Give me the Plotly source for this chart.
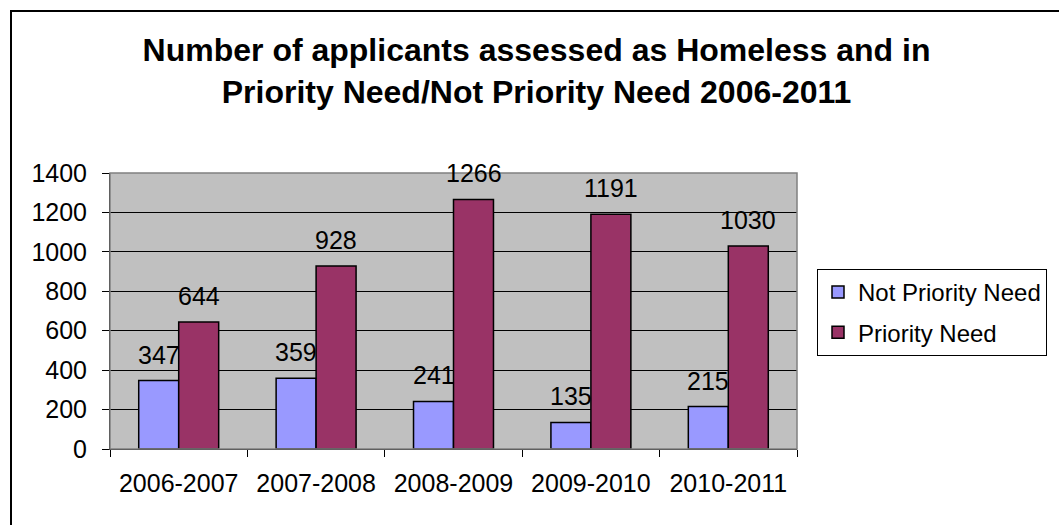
import plotly.graph_objects as go

# Homeless applications by year
periods = ["2006-2007", "2007-2008", "2008-2009", "2009-2010", "2010-2011"]
not_priority = [347, 359, 241, 135, 215]
priority = [644, 928, 1266, 1191, 1030]
y_ticks = [0, 200, 400, 600, 800, 1000, 1200, 1400]

W, H = 1059, 525
L, R, T, B = 110, 262, 173, 76
pw, ph = W - L - R, H - T - B

FONT = "Arial, Liberation Sans, sans-serif"
LABEL_SIZE = 25

series = [
    ("Not Priority Need", not_priority, "#9999FF", "a", -20),
    ("Priority Need", priority, "#993366", "b", 20),
]

fig = go.Figure()
annotations = []
for name, vals, color, grp, dx in series:
    fig.add_trace(go.Bar(
        x=periods, y=vals, name=name, legendgroup=grp,
        marker=dict(color=color, line=dict(color="black", width=1.5)),
    ))
    # value labels above each bar
    for p, v in zip(periods, vals):
        annotations.append(dict(
            x=p, y=v, xref="x", yref="y", text=str(v), showarrow=False,
            xanchor="center", yanchor="bottom", xshift=dx, yshift=10,
            font=dict(family=FONT, size=LABEL_SIZE, color="black"),
        ))

# plot-area outline and outer chart frame
px = lambda v: (v - L) / pw
py = lambda v: (H - B - v) / ph
shapes = [
    dict(type="rect", xref="paper", yref="paper", x0=0, x1=1, y0=0, y1=1,
         line=dict(color="#808080", width=1.5), layer="above"),
    dict(type="rect", xref="paper", yref="paper",
         x0=px(11), x1=px(W + 20), y0=py(H + 20), y1=py(11),
         line=dict(color="black", width=2)),
]

fig.update_layout(
    width=W, height=H,
    margin=dict(l=L, r=R, t=T, b=B, pad=0, autoexpand=False),
    paper_bgcolor="white", plot_bgcolor="#C0C0C0",
    barmode="group", bargap=0.418, bargroupgap=0,
    font=dict(family=FONT, size=LABEL_SIZE, color="black"),
    title=dict(
        text="<b>Number of applicants assessed as Homeless and in<br>"
             "Priority Need/Not Priority Need 2006-2011</b>",
        font=dict(family=FONT, size=32, color="black"),
        x=536.5 / W, xanchor="center",
        y=1 - 61 / H, yanchor="top", yref="container",
    ),
    legend=dict(
        x=px(817), y=py(269), xanchor="left", yanchor="top",
        bordercolor="black", borderwidth=1, bgcolor="white",
        font=dict(family=FONT, size=24, color="black"),
        traceorder="grouped", tracegroupgap=6,
    ),
    shapes=shapes,
    annotations=annotations,
    showlegend=True,
)

fig.update_xaxes(
    type="category", tickson="boundaries",
    ticks="outside", ticklen=7, tickcolor="black", tickwidth=1,
    showline=True, linecolor="black", linewidth=1,
    showgrid=False, ticklabelstandoff=12,
    tickfont=dict(family=FONT, size=LABEL_SIZE, color="black"),
)
fig.update_yaxes(
    range=[0, 1400], tickvals=y_ticks,
    ticks="outside", ticklen=7, tickcolor="black", tickwidth=1,
    showline=True, linecolor="black", linewidth=1,
    showgrid=True, gridcolor="black", gridwidth=1,
    zeroline=False, ticklabelstandoff=10,
    tickfont=dict(family=FONT, size=LABEL_SIZE, color="black"),
)

fig.write_html("out.html")
